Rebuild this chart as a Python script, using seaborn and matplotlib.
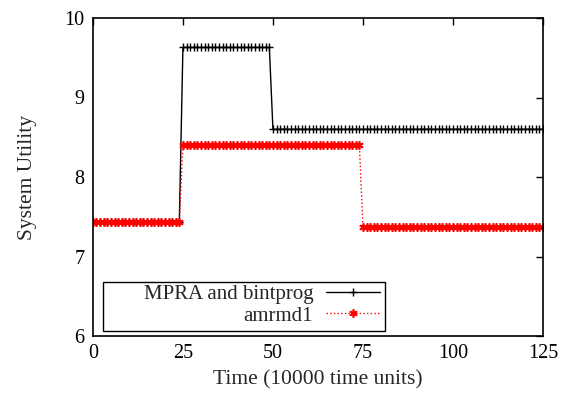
import numpy as np
import pandas as pd
import matplotlib
matplotlib.use("Agg")
import matplotlib.pyplot as plt
from matplotlib.patches import Rectangle
import seaborn as sns

# Step data (level values and number of samples per level)
time = list(range(0, 126))
mpra_levels = [7.43, 9.63, 8.60]
mpra_counts = [25, 25, 76]
amr_levels = [7.43, 8.40, 7.37]
amr_counts = [25, 50, 51]
labels = ["MPRA and bintprog", "amrmd1"]
x_ticks = [0, 25, 50, 75, 100, 125]
y_ticks = [6, 7, 8, 9, 10]

mpra = np.repeat(mpra_levels, mpra_counts)
amr = np.repeat(amr_levels, amr_counts)

df = pd.DataFrame({"time": time + time,
                   "util": np.concatenate([mpra, amr]),
                   "series": [labels[0]] * len(time) + [labels[1]] * len(time)})

sns.set_style("white")
plt.rcParams['font.family'] = ['Liberation Serif', 'DejaVu Serif']

fig = plt.figure(figsize=(5.63, 4.0), dpi=100)
ax = fig.add_axes([0.165, 0.16, 0.7995, 0.795])

sns.lineplot(data=df[df.series == labels[0]], x="time", y="util", ax=ax,
             color="black", lw=1.0, marker="+", markersize=6, mew=1.0,
             mec="black", mfc="black", label=labels[0])
sns.lineplot(data=df[df.series == labels[1]], x="time", y="util", ax=ax,
             color="red", lw=1.0, ls=":", marker=(6, 2, 0), markersize=6, mew=1.2,
             mec="red", mfc="red", label=labels[1])

ax.set_xlim(0, 125)
ax.set_ylim(6, 10)
ax.set_xticks(x_ticks)
ax.set_yticks(y_ticks)
ax.set_xticklabels([str(v) for v in x_ticks])
ax.set_yticklabels([str(v) for v in y_ticks])
ax.tick_params(direction="in", length=5, width=1, top=True, right=True,
               labelsize=14.5, colors="black", pad=6)
for s in ax.spines.values():
    s.set_color("black")
    s.set_linewidth(1.2)
ax.set_xlabel("Time (10000 time units)", fontsize=15.5, labelpad=5)
ax.set_ylabel("System Utility", fontsize=15.5, labelpad=20)

# legend frame as in the reference (gnuplot style, wide box)
ax.add_patch(Rectangle((0.022, 0.016), 0.627, 0.154, transform=ax.transAxes,
                       fill=True, facecolor="white", edgecolor="black",
                       lw=1.0, zorder=4))
leg = ax.legend(loc="lower right", bbox_to_anchor=(0.649, 0.016), borderaxespad=0,
                markerfirst=False, fontsize=15, frameon=False, numpoints=1,
                handlelength=2.6, handletextpad=0.6, labelspacing=0.1,
                borderpad=0.25)
leg.set_zorder(5)

fig.savefig("out.png", dpi=100)
